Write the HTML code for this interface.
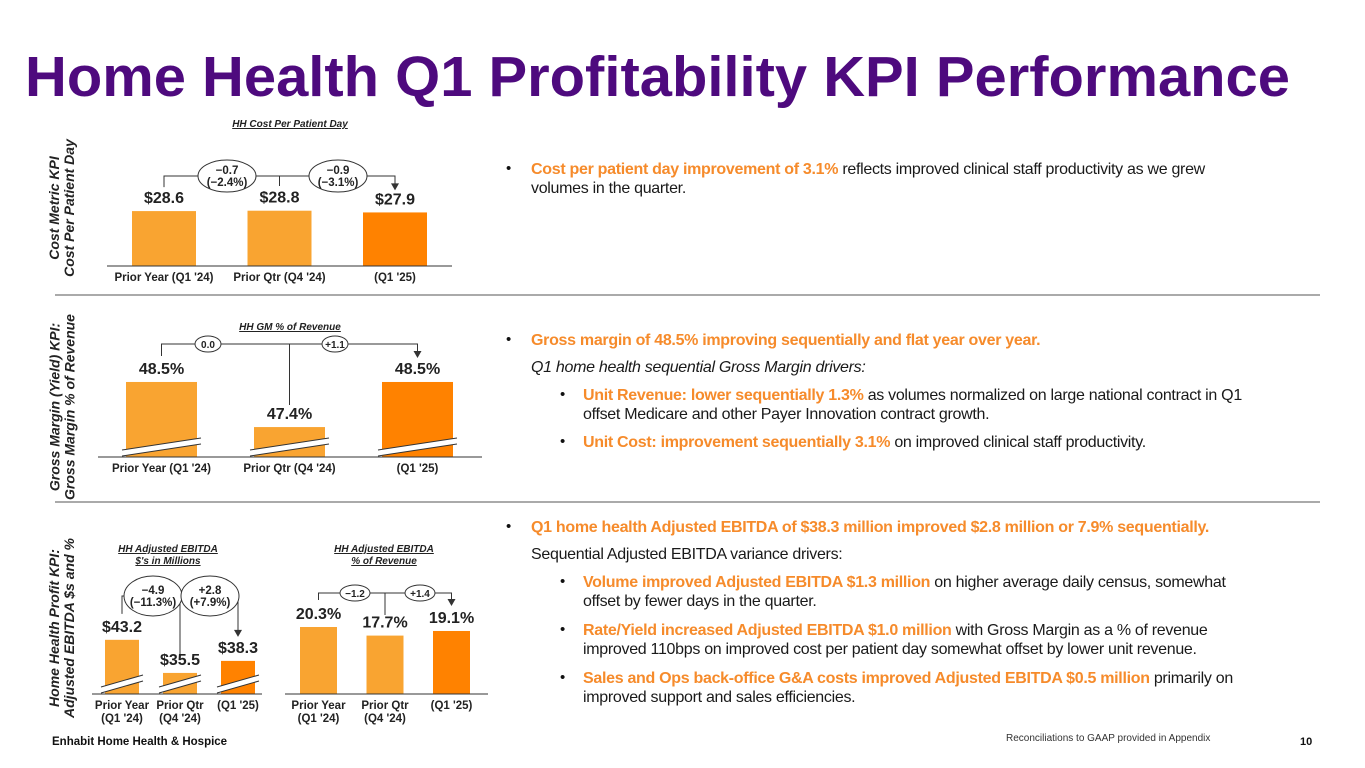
<!DOCTYPE html>
<html><head><meta charset="utf-8">
<style>
*{margin:0;padding:0;box-sizing:border-box}
body{width:1365px;height:768px;background:#fff;position:relative;overflow:hidden;font-family:"Liberation Sans",Arial,sans-serif;color:#111}
.txt{position:absolute;font-size:16px;line-height:19px;letter-spacing:-0.3px;color:#1a1a1a}
.o{color:#F68B2B;font-weight:bold}
.b{position:absolute;font-size:15px}
.side{position:absolute;font-weight:bold;font-style:italic;font-size:14px;line-height:15px;color:#222;text-align:center;transform:rotate(-90deg);transform-origin:center center;white-space:nowrap}
</style></head><body>
<svg width="1365" height="768" style="position:absolute;left:0;top:0">
<text x="25" y="96" font-family="Liberation Sans" font-weight="bold" font-size="57" fill="#4E0A7E" textLength="1265" lengthAdjust="spacingAndGlyphs">Home Health Q1 Profitability KPI Performance</text>
<line x1="55" y1="295" x2="1320" y2="295" stroke="#777" stroke-width="1.2"/>
<line x1="55" y1="502" x2="1320" y2="502" stroke="#777" stroke-width="1.2"/>
<g id="charts"></g>
<text x="52" y="745" font-family="Liberation Sans" font-weight="bold" font-size="11.5" fill="#111">Enhabit Home Health &amp; Hospice</text>
<text x="1006" y="741" font-family="Liberation Sans" font-size="10" fill="#333">Reconciliations to GAAP provided in Appendix</text>
<text x="1300" y="745" font-family="Liberation Sans" font-weight="bold" font-size="11" fill="#111">10</text>
</svg>

<div class="side" style="left:-28px;top:193px;width:180px">Cost Metric KPI<br>Cost Per Patient Day</div>
<div class="side" style="left:-45px;top:392px;width:215px">Gross Margin (Yield) KPI:<br>Gross Margin % of Revenue</div>
<div class="side" style="left:-48px;top:613px;width:220px">Home Health Profit KPI:<br>Adjusted EBITDA $s and %</div>

<div class="b" style="left:506px;top:160px">•</div>
<div class="txt" style="left:531px;top:160px;width:725px"><span class="o">Cost per patient day improvement of 3.1%</span> reflects improved clinical staff productivity as we grew volumes in the quarter.</div>

<div class="b" style="left:506px;top:331px">•</div>
<div class="txt" style="left:531px;top:331px"><span class="o">Gross margin of 48.5% improving sequentially and flat year over year.</span></div>
<div class="txt" style="left:531px;top:358px;font-style:italic">Q1 home health sequential Gross Margin drivers:</div>
<div class="b" style="left:560px;top:386px">•</div>
<div class="txt" style="left:583px;top:386px;width:690px"><span class="o">Unit Revenue: lower sequentially 1.3%</span> as volumes normalized on large national contract in Q1 offset Medicare and other Payer Innovation contract growth.</div>
<div class="b" style="left:560px;top:433px">•</div>
<div class="txt" style="left:583px;top:433px"><span class="o">Unit Cost: improvement sequentially 3.1%</span> on improved clinical staff productivity.</div>

<div class="b" style="left:506px;top:518px">•</div>
<div class="txt" style="left:531px;top:518px"><span class="o">Q1 home health Adjusted EBITDA of $38.3 million improved $2.8 million or 7.9% sequentially.</span></div>
<div class="txt" style="left:531px;top:545px">Sequential Adjusted EBITDA variance drivers:</div>
<div class="b" style="left:560px;top:573px">•</div>
<div class="txt" style="left:583px;top:573px;width:672px"><span class="o">Volume improved Adjusted EBITDA $1.3 million</span> on higher average daily census, somewhat offset by fewer days in the quarter.</div>
<div class="b" style="left:560px;top:621px">•</div>
<div class="txt" style="left:583px;top:621px;width:690px"><span class="o">Rate/Yield increased Adjusted EBITDA $1.0 million</span> with Gross Margin as a % of revenue improved 110bps on improved cost per patient day somewhat offset by lower unit revenue.</div>
<div class="b" style="left:560px;top:669px">•</div>
<div class="txt" style="left:583px;top:669px;width:705px"><span class="o">Sales and Ops back-office G&amp;A costs improved Adjusted EBITDA $0.5 million</span> primarily on improved support and sales efficiencies.</div>

<script>
const categories1 = ["Prior Year (Q1 '24)", "Prior Qtr (Q4 '24)", "(Q1 '25)"];
const categories2 = [["Prior Year","(Q1 '24)"], ["Prior Qtr","(Q4 '24)"], ["(Q1 '25)"]];
const costValues = [28.6, 28.8, 27.9];
const costLabels = ["$28.6", "$28.8", "$27.9"];
const costChanges = [["−0.7","(−2.4%)"], ["−0.9","(−3.1%)"]];
const gmValues = [48.5, 47.4, 48.5];
const gmLabels = ["48.5%", "47.4%", "48.5%"];
const gmChanges = [["0.0"], ["+1.1"]];
const ebitdaValues = [43.2, 35.5, 38.3];
const ebitdaLabels = ["$43.2", "$35.5", "$38.3"];
const ebitdaChanges = [["−4.9","(−11.3%)"], ["+2.8","(+7.9%)"]];
const marginValues = [20.3, 17.7, 19.1];
const marginLabels = ["20.3%", "17.7%", "19.1%"];
const marginChanges = [["−1.2"], ["+1.4"]];

const NS = "http://www.w3.org/2000/svg";
const root = document.getElementById('charts');
function mk(tag, attrs, parent, text){
  const e = document.createElementNS(NS, tag);
  for (const k in attrs) e.setAttribute(k, attrs[k]);
  if (text !== undefined) e.textContent = text;
  (parent||root).appendChild(e);
  return e;
}
const LIGHT="#F9A431", DARK="#FF8200";

function chart(cfg){
  const g = mk('g', {});
  
  
  const y = v => cfg.base - (v - cfg.offset) * cfg.k;
  cfg.title.forEach((t,i)=>{
    const tt = mk('text',{x:cfg.titleX,y:cfg.titleY+i*12,'text-anchor':'middle','font-family':'Liberation Sans','font-weight':'bold','font-style':'italic','font-size':10,fill:'#222','text-decoration':'underline'},g,t);
    
    
  });
  const tops=[];
  cfg.values.forEach((v,i)=>{
    const x = cfg.x0 + i*cfg.step, top = y(v);
    tops.push(top);
    const r = mk('rect',{x:x,y:top,width:cfg.bw,height:cfg.base-top,fill:i===2?DARK:LIGHT},g);
    
    
    if (cfg.broken){
      const by = cfg.base-10;
      const p = mk('path',{d:`M${x-4} ${by+6} L${x+cfg.bw+4} ${by-6}`,stroke:'#fff','stroke-width':6,fill:'none'},g);
      mk('path',{d:`M${x-4} ${by+3} L${x+cfg.bw+4} ${by-9} M${x-4} ${by+9} L${x+cfg.bw+4} ${by-3}`,stroke:'#333','stroke-width':1,fill:'none'},g);
      
      
    }
    const lbl = mk('text',{x:x+cfg.bw/2,y:top-8,'text-anchor':'middle','font-family':'Liberation Sans','font-weight':'bold','font-size':cfg.vfs,fill:'#222'},g,cfg.labels[i]);
    
    
    const cl = cfg.cats[i], lines = Array.isArray(cl)?cl:[cl];
    lines.forEach((s,j)=>{
      const c = mk('text',{x:x+cfg.bw/2,y:cfg.base+15+j*13,'text-anchor':'middle','font-family':'Liberation Sans','font-weight':'bold','font-size':11.5,fill:'#222'},g,s);
      
      
    });
  });
  const ax = mk('line',{x1:cfg.ax1,x2:cfg.ax2,y1:cfg.base,y2:cfg.base,stroke:'#333','stroke-width':1},g);
  
  
  const cx = i => cfg.x0 + i*cfg.step + cfg.bw/2;
  const by = cfg.by;
  mk('path',{d:`M${cx(0)} ${tops[0]-cfg.gap} V${by} H${cx(2)} V${tops[2]-cfg.gap-4}`,stroke:'#333','stroke-width':1,fill:'none'},g);
  mk('path',{d:`M${cx(1)} ${by} V${cfg.midEnd}`,stroke:'#333','stroke-width':1,fill:'none'},g);
  mk('path',{d:`M${cx(2)-4} ${tops[2]-cfg.gap-5} L${cx(2)+4} ${tops[2]-cfg.gap-5} L${cx(2)} ${tops[2]-cfg.gap+2} Z`,fill:'#333'},g);
  cfg.changes.forEach((ch,i)=>{
    const ox = cfg.ovalX[i];
    const e = mk('ellipse',{cx:ox,cy:by,rx:cfg.orx,ry:cfg.ory,fill:'#fff',stroke:'#333','stroke-width':1},g);
    
    
    ch.forEach((s,j)=>{
      mk('text',{x:ox,y:by+4+(j-(ch.length-1)/2)*12,'text-anchor':'middle','font-family':'Liberation Sans','font-weight':'bold','font-size':cfg.cfs,fill:'#222'},g,s);
    });
  });
}

chart({name:'cost-per-patient-day-chart',values:costValues,labels:costLabels,changes:costChanges,cats:categories1,
  base:266,offset:0,k:1.92,x0:132,step:115.5,bw:64,ax1:107,ax2:452,titleX:290,titleY:127,title:['HH Cost Per Patient Day'],
  by:176,gap:24,orx:29,ory:16,cfs:11.5,ovalX:[227,338],vfs:16,midEnd:186});
chart({name:'gm-percent-revenue-chart',values:gmValues,labels:gmLabels,changes:gmChanges,cats:categories1,broken:true,
  base:457,offset:46.67,k:41,x0:126,step:128,bw:71,ax1:98,ax2:482,titleX:290,titleY:330,title:['HH GM % of Revenue'],
  by:344,gap:26,orx:13,ory:8,cfs:10,ovalX:[208,335],vfs:16,midEnd:405});
chart({name:'adjusted-ebitda-dollars-chart',values:ebitdaValues,labels:ebitdaLabels,changes:ebitdaChanges,cats:categories2,broken:true,
  base:694,offset:30.6,k:4.3,x0:105,step:58,bw:34,ax1:92,ax2:262,titleX:168,titleY:552,title:['HH Adjusted EBITDA',"$'s in Millions"],
  by:596,gap:26,orx:29,ory:20,cfs:11.5,ovalX:[153,210],vfs:16,midEnd:654});
chart({name:'adjusted-ebitda-margin-chart',values:marginValues,labels:marginLabels,changes:marginChanges,cats:categories2,
  base:694,offset:0,k:3.3,x0:300,step:66.5,bw:37,ax1:285,ax2:488,titleX:384,titleY:552,title:['HH Adjusted EBITDA','% of Revenue'],
  by:593,gap:27,orx:15,ory:8,cfs:10,ovalX:[355,420],vfs:16,midEnd:615});
</script>
</body></html>
